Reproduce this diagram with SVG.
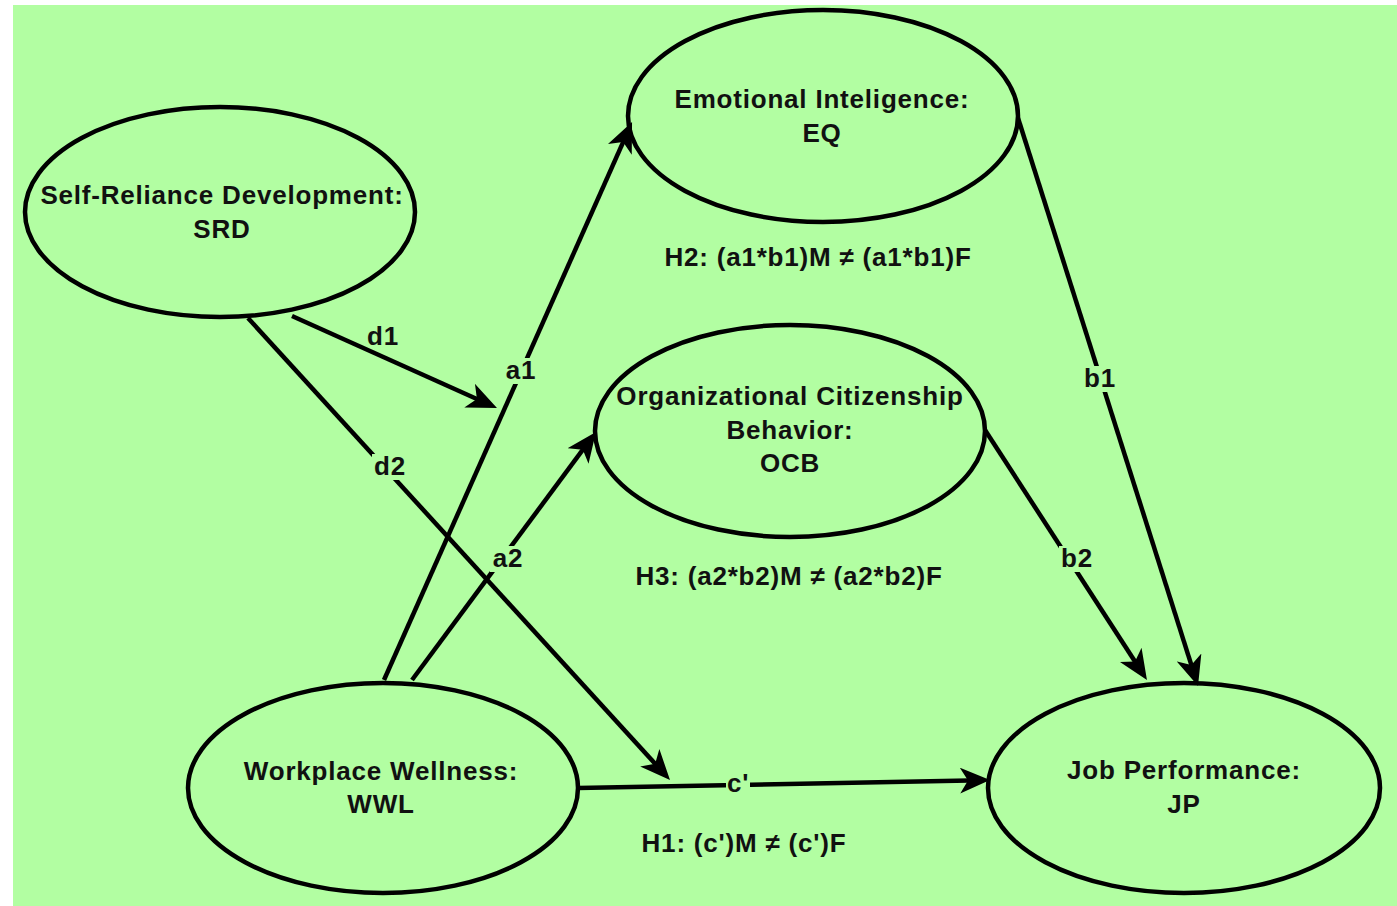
<svg xmlns="http://www.w3.org/2000/svg" width="1397" height="906" viewBox="0 0 1397 906">
  <defs>
    <style>
      .node { fill: none; stroke: #000; stroke-width: 4.5; }
      .edge { fill: none; stroke: #000; stroke-width: 4.5; marker-end: url(#arrow); }
      text { font-family: "Liberation Sans", Arial, sans-serif; font-weight: bold; font-size: 26px; letter-spacing: 0.8px; fill: #111; text-anchor: middle; }
      .lbl-bg { fill: #b2fea2; }
    </style>
    <marker id="arrow" markerUnits="userSpaceOnUse" viewBox="0 0 30 26" markerWidth="30" markerHeight="26" refX="22" refY="13" orient="auto">
      <path d="M0,0 L30,13 L0,26 L8,13 Z" fill="#000"/>
    </marker>
  </defs>

  <rect x="13" y="5" width="1384" height="901" fill="#b2fea2"/>

  <!-- connectors -->
  <g id="connectors">
    <line id="e-d1" class="edge" x1="292" y1="316" x2="489.7" y2="404.7"/>
    <line id="e-d2" class="edge" x1="248" y1="318" x2="664.6" y2="774.1"/>
    <line id="e-a1" class="edge" x1="384" y1="680" x2="628.8" y2="129.3"/>
    <line id="e-a2" class="edge" x1="412" y1="680" x2="591.2" y2="438.4"/>
    <line id="e-c" class="edge" x1="578" y1="788" x2="982" y2="780.2"/>
    <line id="e-b1" class="edge" x1="1018" y1="118" x2="1195.6" y2="678.4"/>
    <line id="e-b2" class="edge" x1="985" y1="430" x2="1142.6" y2="673.3"/>

    <!-- edge labels -->
    <text x="383" y="345">d1</text>
    <rect class="lbl-bg" x="372" y="454" width="36" height="26"/>
    <text x="390" y="475">d2</text>
    <rect class="lbl-bg" x="503" y="358" width="36" height="26"/>
    <text x="521" y="379">a1</text>
    <rect class="lbl-bg" x="490" y="546" width="36" height="26"/>
    <text x="508" y="567">a2</text>
    <rect class="lbl-bg" x="726" y="771" width="24" height="26"/>
    <text x="738" y="792">c'</text>
    <rect class="lbl-bg" x="1082" y="366" width="36" height="26"/>
    <text x="1100" y="387">b1</text>
    <rect class="lbl-bg" x="1059" y="546" width="36" height="26"/>
    <text x="1077" y="567">b2</text>
  </g>

  <!-- nodes -->
  <g id="node-srd">
    <ellipse class="node" cx="220" cy="212" rx="195" ry="105"/>
    <text x="222" y="204">Self-Reliance Development:</text>
    <text x="222" y="238">SRD</text>
  </g>
  <g id="node-eq">
    <ellipse class="node" cx="823" cy="116" rx="195" ry="106"/>
    <text x="822" y="108">Emotional Inteligence:</text>
    <text x="822" y="142">EQ</text>
  </g>
  <g id="node-ocb">
    <ellipse class="node" cx="790" cy="431" rx="195" ry="106"/>
    <text x="790" y="405">Organizational Citizenship</text>
    <text x="790" y="439">Behavior:</text>
    <text x="790" y="472">OCB</text>
  </g>
  <g id="node-wwl">
    <ellipse class="node" cx="383" cy="788" rx="195" ry="105"/>
    <text x="381" y="780">Workplace Wellness:</text>
    <text x="381" y="813">WWL</text>
  </g>
  <g id="node-jp">
    <ellipse class="node" cx="1184" cy="788" rx="196" ry="105"/>
    <text x="1184" y="779">Job Performance:</text>
    <text x="1184" y="813">JP</text>
  </g>

  <!-- hypotheses -->
  <g id="hypotheses">
    <text x="818" y="266">H2: (a1*b1)M ≠ (a1*b1)F</text>
    <text x="789" y="585">H3: (a2*b2)M ≠ (a2*b2)F</text>
    <text x="744" y="852">H1: (c')M ≠ (c')F</text>
  </g>
</svg>
